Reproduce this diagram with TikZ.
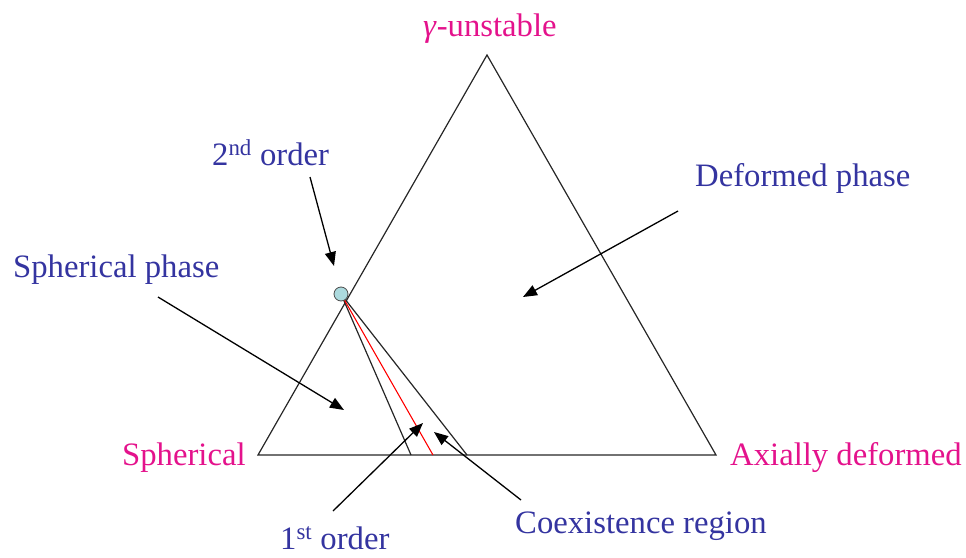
\documentclass[tikz,border=0pt]{standalone}
\usepackage{fontspec}
\setmainfont{Liberation Serif}
\usetikzlibrary{arrows.meta}
\definecolor{lblue}{RGB}{52,52,160}
\definecolor{lmag}{RGB}{228,18,140}
\definecolor{dotfill}{RGB}{172,218,222}
\begin{document}
\begin{tikzpicture}[x=1pt,y=-1pt,
  edge/.style={draw=black!85,line width=1.2pt},
  ptr/.style={draw=black,line width=1.3pt,-{Triangle[length=14pt,width=11pt]}},
  bluetxt/.style={text=lblue,font=\fontsize{32.7}{38}\selectfont,anchor=base west,inner sep=0pt},
  magtxt/.style={text=lmag,font=\fontsize{32.7}{38}\selectfont,anchor=base west,inner sep=0pt}]
\useasboundingbox (0,0) rectangle (966,557);
% triangle corners
\coordinate (top) at (487,55);
\coordinate (bl) at (258,455);
\coordinate (br) at (716,455);
\draw[edge] (bl) -- (top) -- (br) -- cycle;
% critical point lines
\coordinate (cp) at (341,294);
\coordinate (b1) at (411,455);
\coordinate (b2) at (433,455);
\coordinate (b3) at (467,455);
\draw[edge] (cp) -- (b1);
\draw[edge] (cp) -- (b3);
\draw[draw=red,line width=1.1pt] (cp) -- (b2);
\node[circle,draw=black!70,fill=dotfill,line width=0.8pt,minimum size=14pt,inner sep=0pt] (dot) at (cp) {};
% labels
\node[magtxt] (gam) at (423,36) {\textit{γ}-unstable};
\node[bluetxt] (sec) at (212,165) {2\textsuperscript{nd} order};
\node[bluetxt] (sph) at (13,277) {Spherical phase};
\node[bluetxt] (def) at (695,186) {Deformed phase};
\node[magtxt] (sp) at (122,465) {Spherical};
\node[magtxt] (ax) at (730,465) {Axially deformed};
\node[bluetxt] (fst) at (280,549) {1\textsuperscript{st} order};
\node[bluetxt] (coe) at (515,533) {Coexistence region};
% arrow endpoints
\coordinate (a1s) at (310,177); \coordinate (a1e) at (334,266);
\coordinate (a2s) at (158,297); \coordinate (a2e) at (344,410);
\coordinate (a3s) at (678,211); \coordinate (a3e) at (523,297);
\coordinate (a4s) at (333,511); \coordinate (a4e) at (423,423);
\coordinate (a5s) at (521,500); \coordinate (a5e) at (434,432);
\draw[ptr] (a1s) -- (a1e);
\draw[ptr] (a2s) -- (a2e);
\draw[ptr] (a3s) -- (a3e);
\draw[ptr] (a4s) -- (a4e);
\draw[ptr] (a5s) -- (a5e);
\end{tikzpicture}
\end{document}
